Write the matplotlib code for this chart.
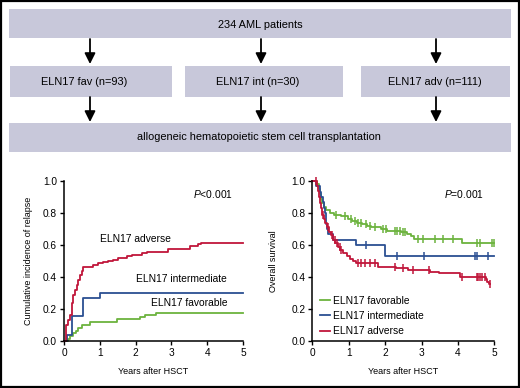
import numpy as np
import matplotlib.pyplot as plt
from matplotlib.patches import Rectangle

plt.rcParams['font.family'] = ['Liberation Sans', 'DejaVu Sans']
plt.rcParams['mathtext.fontset'] = 'custom'
plt.rcParams['mathtext.it'] = 'Liberation Sans:italic'
plt.rcParams['mathtext.rm'] = 'Liberation Sans'

# flowchart
top_label = '234 AML patients'
group_labels = ['ELN17 fav (n=93)', 'ELN17 int (n=30)', 'ELN17 adv (n=111)']
bottom_label = 'allogeneic hematopoietic stem cell transplantation'

# left panel: cumulative incidence of relapse (step points)
cir_adv_t = [0, 0.05, 0.12, 0.16, 0.21, 0.26, 0.31, 0.35, 0.40, 0.45, 0.49, 0.54,
             0.82, 0.96, 1.10, 1.24, 1.37, 1.52, 1.75, 1.89, 2.17, 2.31, 2.91,
             3.52, 3.75, 3.84, 5.0]
cir_adv_v = [0, 0.10, 0.13, 0.16, 0.235, 0.29, 0.32, 0.35, 0.38, 0.41, 0.44, 0.465,
             0.475, 0.486, 0.495, 0.50, 0.505, 0.517, 0.53, 0.54, 0.55, 0.558, 0.573,
             0.594, 0.604, 0.614, 0.614]
cir_int_t = [0, 0.07, 0.21, 0.52, 1.0, 5.0]
cir_int_v = [0, 0.04, 0.156, 0.267, 0.30, 0.30]
cir_fav_t = [0, 0.12, 0.18, 0.26, 0.33, 0.40, 0.49, 0.73, 1.47, 2.12, 2.26, 2.57, 5.0]
cir_fav_v = [0, 0.01, 0.03, 0.048, 0.065, 0.08, 0.10, 0.12, 0.135, 0.152, 0.16, 0.173, 0.173]

# right panel: overall survival (step points + censor times)
os_fav_t = [0, 0.12, 0.18, 0.22, 0.25, 0.28, 0.32, 0.38, 0.48, 0.60, 0.80, 0.98,
            1.08, 1.22, 1.36, 1.50, 1.62, 1.88, 2.05, 2.45, 2.60, 2.70, 2.80, 4.10, 5.0]
os_fav_v = [1.0, 0.98, 0.95, 0.92, 0.89, 0.86, 0.84, 0.82, 0.80, 0.79, 0.78, 0.76,
            0.75, 0.74, 0.73, 0.72, 0.71, 0.70, 0.69, 0.68, 0.67, 0.655, 0.636, 0.614, 0.614]
os_fav_cens = [0.66, 0.89, 1.05, 1.16, 1.26, 1.35, 1.47, 1.58, 1.71, 1.94, 2.03,
               2.26, 2.34, 2.41, 2.48, 2.54, 2.91, 3.05, 3.37, 3.60, 3.87, 4.52,
               4.61, 4.93, 5.0]

os_int_t = [0, 0.11, 0.20, 0.25, 0.29, 0.32, 0.35, 0.38, 0.41, 0.43, 0.57, 1.20, 1.99, 5.0]
os_int_v = [1.0, 0.967, 0.933, 0.90, 0.867, 0.833, 0.80, 0.733, 0.70, 0.667, 0.633,
            0.60, 0.533, 0.533]
os_int_cens = [1.48, 2.32, 3.08, 4.47, 4.52, 4.83]

os_adv_t = [0, 0.12, 0.15, 0.18, 0.21, 0.24, 0.27, 0.31, 0.35, 0.40, 0.46, 0.51,
            0.57, 0.63, 0.70, 0.76, 0.85, 0.94, 1.03, 1.13, 1.21, 1.80, 2.30,
            2.64, 3.23, 3.49, 4.06, 4.77, 4.81, 4.86, 4.88]
os_adv_v = [1.0, 0.97, 0.94, 0.90, 0.86, 0.83, 0.79, 0.76, 0.74, 0.71, 0.68, 0.66,
            0.63, 0.61, 0.59, 0.57, 0.55, 0.53, 0.51, 0.50, 0.486, 0.465, 0.455,
            0.444, 0.433, 0.423, 0.40, 0.385, 0.37, 0.355, 0.355]
os_adv_cens = [0.10, 0.29, 0.44, 0.53, 0.61, 0.69, 0.75, 0.80, 1.26, 1.35, 1.46,
               1.58, 1.71, 2.26, 2.50, 2.76, 3.21, 4.10, 4.52, 4.56, 4.61, 4.65,
               4.74, 4.88]

RED = '#c0163a'
BLUE = '#2b4f92'
GREEN = '#6cb33e'
BOX = '#c8c8da'
FS = 7.4        # text inside the plots
FS_FLOW = 7.9   # flowchart text
FS_LAB = 6.5    # axis labels (condensed in the original)


def step_at(t, times, vals):
    idx = np.searchsorted(times, t, side='right') - 1
    return np.asarray(vals)[idx]


fig = plt.figure(figsize=(5.2, 3.88), dpi=100)

# background axes in pixel units for the flowchart
bg = fig.add_axes([0, 0, 1, 1])
bg.set_xlim(0, 520)
bg.set_ylim(388, 0)
bg.axis('off')
bg.add_patch(Rectangle((0.8, 0.8), 518.4, 386.4, fill=False, ec='black', lw=1.6))

bg.add_patch(Rectangle((9, 9), 502, 29, fc=BOX, ec='none'))
bg.text(260, 24.5, top_label, ha='center', va='center', fontsize=FS_FLOW)
boxes = [(10, 162, 84), (185, 158, 258), (361, 149, 435)]
for (bx, bw, tx), lab in zip(boxes, group_labels):
    bg.add_patch(Rectangle((bx, 66), bw, 31, fc=BOX, ec='none'))
    bg.text(tx, 82, lab, ha='center', va='center', fontsize=FS_FLOW)
bg.add_patch(Rectangle((9, 123), 502, 29, fc=BOX, ec='none'))
bg.text(259, 137.5, bottom_label, ha='center', va='center', fontsize=FS_FLOW)

for ax_x in [90, 261, 436]:
    for y0, y1 in [(39, 64), (97, 122)]:
        bg.annotate('', xy=(ax_x, y1), xytext=(ax_x, y0),
                    arrowprops=dict(arrowstyle='-|>', color='black', lw=1.3,
                                    mutation_scale=16, shrinkA=0, shrinkB=0))


def style(ax):
    ax.set_xlim(0, 5)
    ax.set_ylim(0, 1)
    ax.spines['top'].set_visible(False)
    ax.spines['right'].set_visible(False)
    for s in ['left', 'bottom']:
        ax.spines[s].set_linewidth(1.1)
    ax.set_xticks(range(6))
    ax.set_yticks(np.arange(0, 1.01, 0.2))
    ax.set_yticklabels(['%.1f' % v for v in np.arange(0, 1.01, 0.2)])
    ax.tick_params(direction='out', length=3, width=1, labelsize=7.3, pad=2)
    ax.set_xlabel('Years after HSCT', fontsize=FS_LAB)
    ax.xaxis.set_label_coords(0.5, -0.16)


# left panel
ax1 = fig.add_axes([64 / 520, 47 / 388, 179 / 520, 160 / 388])
style(ax1)
ax1.step(cir_fav_t, cir_fav_v, where='post', color=GREEN, lw=1.3, clip_on=False)
ax1.step(cir_int_t, cir_int_v, where='post', color=BLUE, lw=1.3, clip_on=False)
ax1.step(cir_adv_t, cir_adv_v, where='post', color=RED, lw=1.3, clip_on=False)
ax1.set_ylabel('Cumulative incidence of relapse', fontsize=FS_LAB)
ax1.yaxis.set_label_coords(-0.175, 0.5)
ax1.text(1.0, 0.636, 'ELN17 adverse', fontsize=FS, va='center')
ax1.text(2.01, 0.386, 'ELN17 intermediate', fontsize=FS, va='center')
ax1.text(2.43, 0.236, 'ELN17 favorable', fontsize=FS, va='center')
ax1.text(3.6, 0.917, '$\\mathit{P}$<0.001', fontsize=FS, va='center')

# right panel
ax2 = fig.add_axes([312.3 / 520, 47 / 388, 182 / 520, 160 / 388])
style(ax2)
series = [(os_fav_t, os_fav_v, os_fav_cens, GREEN, 'ELN17 favorable'),
          (os_int_t, os_int_v, os_int_cens, BLUE, 'ELN17 intermediate'),
          (os_adv_t, os_adv_v, os_adv_cens, RED, 'ELN17 adverse')]
handles = []
for t, v, c, col, lab in series:
    h, = ax2.step(t, v, where='post', color=col, lw=1.3, clip_on=False, label=lab)
    ax2.plot(c, step_at(c, t, v), ls='none', marker='|', ms=6, mew=1.1,
             color=col, clip_on=False)
    handles.append(h)
ax2.set_ylabel('Overall survival', fontsize=FS_LAB)
ax2.yaxis.set_label_coords(-0.19, 0.5)
ax2.text(3.62, 0.917, '$\\mathit{P}$=0.001', fontsize=FS, va='center')
ax2.legend(handles=handles, loc='lower left', bbox_to_anchor=(0.045, 0.03),
           frameon=False, fontsize=FS, handlelength=0.9, handletextpad=0.35,
           labelspacing=0.5, borderpad=0, borderaxespad=0)

fig.savefig('out.png', dpi=100)
